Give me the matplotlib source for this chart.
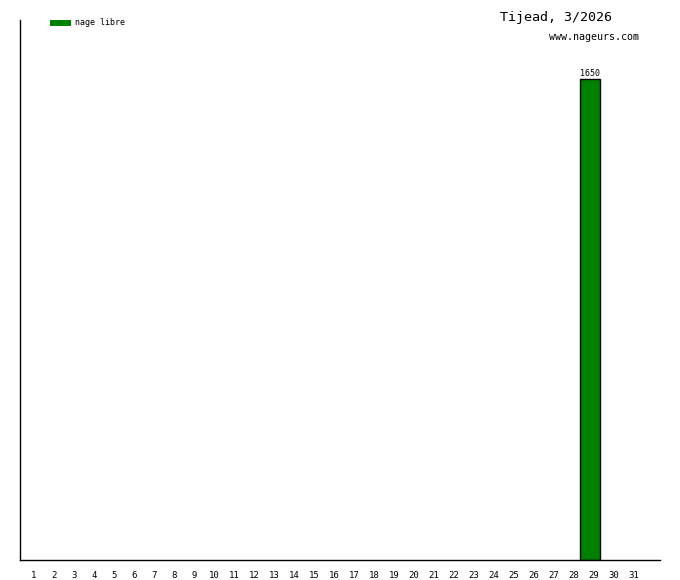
import matplotlib
matplotlib.use("Agg")
import matplotlib.pyplot as plt
from matplotlib.patches import Rectangle

# data
days = list(range(1, 32))
distances = [0] * 31
distances[28] = 1650  # day 29
series_name = "nage libre"
title = "Tijead, 3/2026"
site = "www.nageurs.com"

plt.rcParams['font.family'] = ['DejaVu Sans Mono']

fig = plt.figure(figsize=(6.8, 5.8), dpi=100)
ax = fig.add_axes([20 / 680, 20 / 580, 640 / 680, 540 / 580])

bar_days = [d for d, v in zip(days, distances) if v > 0]
bar_vals = [v for v in distances if v > 0]
bars = ax.bar(bar_days, bar_vals, width=1.0, color="#008000", edgecolor="black", linewidth=1)
for b, v in zip(bars, bar_vals):
    ax.text(b.get_x() + b.get_width() / 2, v + 2, str(v), ha="center", va="bottom", fontsize=6)

ax.set_xlim(0.5, 32.5)
ax.set_ylim(0, 1650 * 540 / 481)
ax.set_xticks([d + 0.2 for d in days])
ax.set_xticklabels([str(d) for d in days], fontsize=6.5)
ax.tick_params(axis="x", length=0, pad=8)
ax.set_yticks([])
ax.spines["top"].set_visible(False)
ax.spines["right"].set_visible(False)
ax.spines["left"].set_linewidth(1)
ax.spines["bottom"].set_linewidth(1)

# legend
fig.patches.append(Rectangle((50 / 680, 1 - 26 / 580), 21 / 680, 6 / 580,
                             transform=fig.transFigure, facecolor="#008000", edgecolor="none"))
fig.text(75 / 680, 1 - 22.5 / 580, series_name, fontsize=6, va="center", ha="left")
fig.text(556 / 680, 1 - 18 / 580, title, fontsize=9.6, va="center", ha="center")
fig.text(639 / 680, 1 - 37.5 / 580, site, fontsize=7.2, va="center", ha="right")

fig.savefig("out.png", dpi=100)
